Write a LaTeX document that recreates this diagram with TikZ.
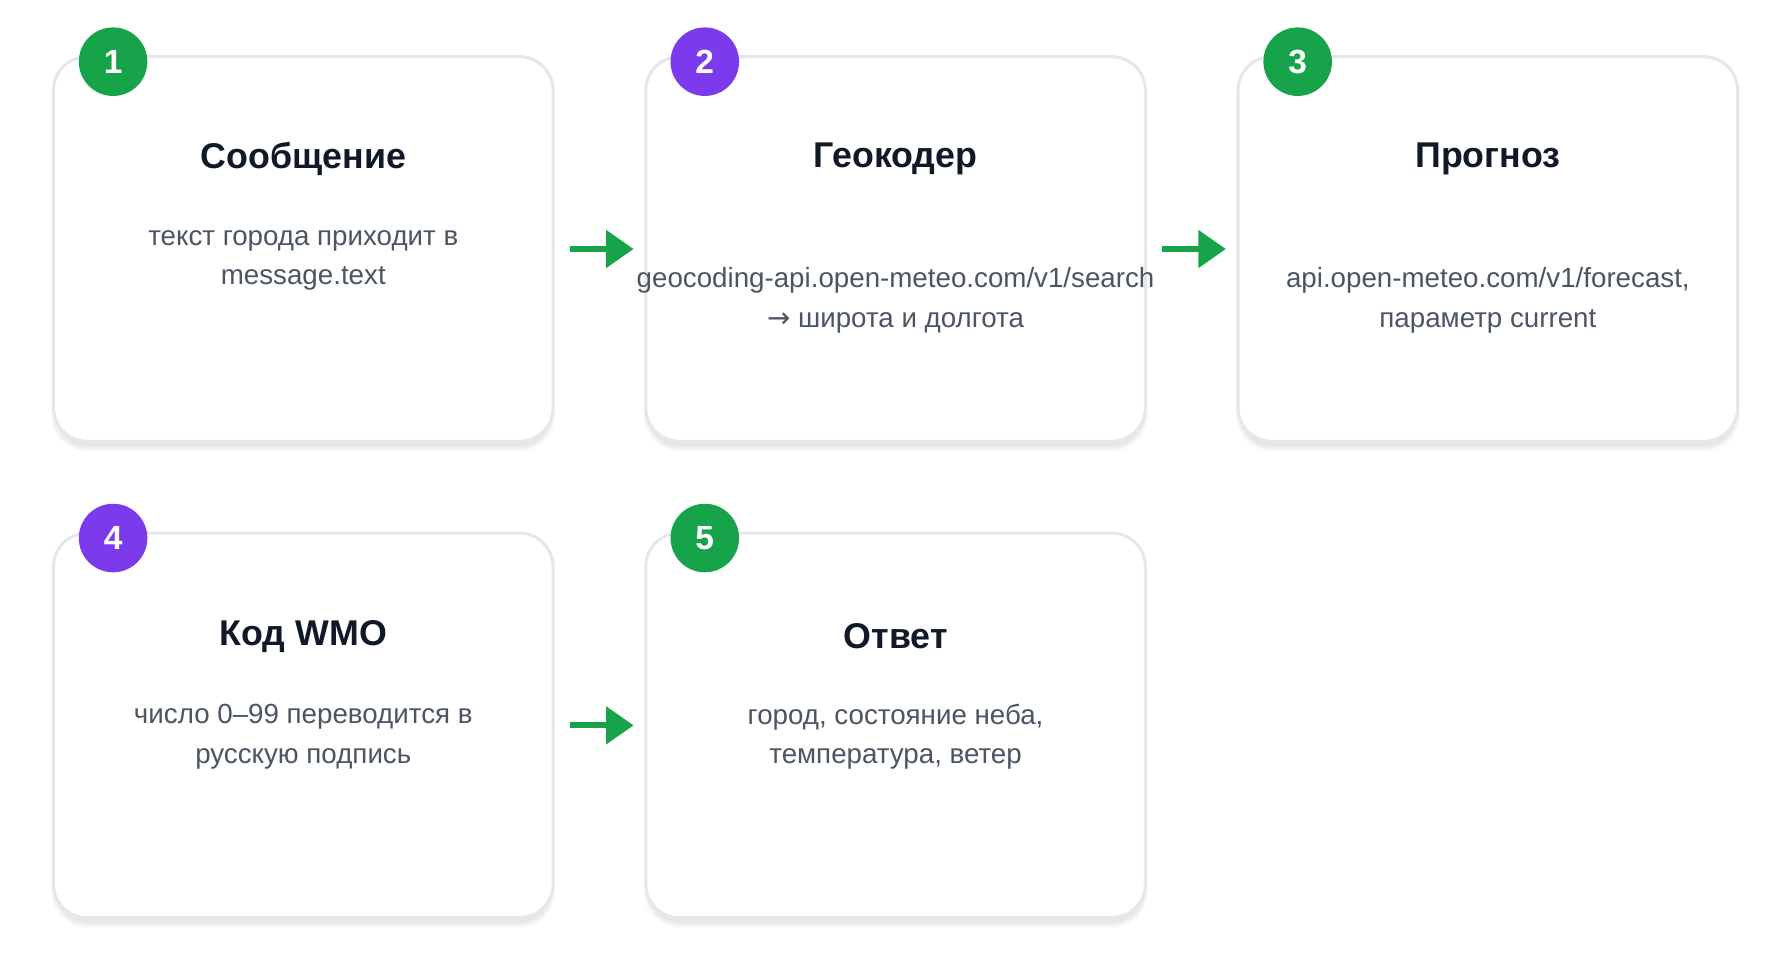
\documentclass[tikz,border=0pt]{standalone}
\usepackage{fontspec}
\setmainfont{Liberation Sans}
\newfontfamily\symfont{DejaVu Sans}
\usetikzlibrary{arrows.meta,shadows.blur}
\definecolor{okgreen}{HTML}{16A34A}
\definecolor{okpurple}{HTML}{7C3AED}
\definecolor{inkdark}{HTML}{111827}
\definecolor{inkgray}{HTML}{4B5563}
\definecolor{cardline}{HTML}{E5E7EB}
\tikzset{
	card/.style={draw=cardline, line width=2pt, fill=white, rounded corners=22pt,
		minimum width=328pt, minimum height=252.5pt, inner sep=0pt,
		blur shadow={shadow blur steps=10, shadow xshift=0pt, shadow yshift=-5pt, shadow opacity=10}},
	badge/.style={circle, fill=#1, minimum size=45pt, inner sep=0pt,
		text=white, font=\fontsize{22}{22}\selectfont\bfseries},
	ttl/.style={text=inkdark, font=\fontsize{23.5}{28}\selectfont\bfseries},
	body/.style={text=inkgray, align=center, font=\fontsize{18.2}{26}\selectfont},
	flowarrow/.style={-{Triangle[length=18pt,width=24pt]}, okgreen, line width=3.8pt,
		shorten <=10pt, shorten >=7pt}
}

\begin{document}
\begin{tikzpicture}[x=0.75pt,y=-0.75pt]
	\useasboundingbox (0,0) rectangle (1567,855);
% KARTOCHKI
	\node [card] (c1) at (265.5,218) {};
	\node [card] (c2) at (784,218) {};
	\node [card] (c3) at (1302.5,218) {};
	\node [card] (c4) at (265.5,635) {};
	\node [card] (c5) at (784,635) {};
% NOMERA
	\node [badge=okgreen] (b1) at (99,54) {1};
	\node [badge=okpurple] (b2) at (617,54) {2};
	\node [badge=okgreen] (b3) at (1136,54) {3};
	\node [badge=okpurple] (b4) at (99,471) {4};
	\node [badge=okgreen] (b5) at (617,471) {5};
% TEKSTY
	\node [ttl] (t1) at (265.5,139) {Сообщение};
	\node [body] (d1) at (265.5,228) {текст города приходит в\\message.text};
	\node [ttl] (t2) at (784,139) {Геокодер};
	\node [body] (d2) at (784,263) {geocoding-api.open-meteo.com/v1/search\\{\symfont→} широта и долгота};
	\node [ttl] (t3) at (1302.5,139) {Прогноз};
	\node [body] (d3) at (1302.5,263) {api.open-meteo.com/v1/forecast,\\параметр current};
	\node [ttl] (t4) at (265.5,557) {Код WMO};
	\node [body] (d4) at (265.5,645) {число 0–99 переводится в\\русскую подпись};
	\node [ttl] (t5) at (784,557) {Ответ};
	\node [body] (d5) at (784,645) {город, состояние неба,\\температура, ветер};
% STRELKI
	\draw [flowarrow] (c1.east) -- (c2.west);
	\draw [flowarrow] (c2.east) -- (c3.west);
	\draw [flowarrow] (c4.east) -- (c5.west);
\end{tikzpicture}
\end{document}
